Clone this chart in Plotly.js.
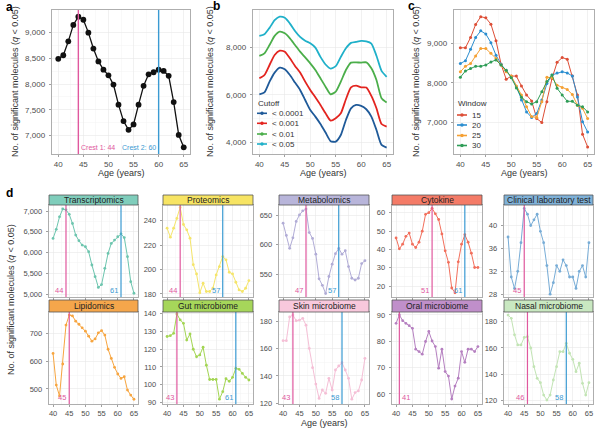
<!DOCTYPE html>
<html><head><meta charset="utf-8">
<script src="https://cdn.plot.ly/plotly-3.0.1.min.js"></script>
<style>html,body{margin:0;padding:0;background:#fff}#chart{width:600px;height:430px}</style>
</head><body><div id="chart"></div>
<script>
// ---------------- DATA ----------------
const ages = [40,41,42,43,44,45,46,47,48,49,50,51,52,53,54,55,56,57,58,59,60,61,62,63,64,65];
const xTicks = [40,45,50,55,60,65];

// panel a
const sigMolecules = [8490,8560,8830,9150,9310,9250,9000,8690,8440,8280,8170,7990,7600,7280,7110,7215,7600,7965,8190,8230,8280,8255,8160,7650,7010,6770];
const crestsA = [44, 60];
const crestLabelsA = ['Crest 1: 44', 'Crest 2: 60'];

// panel b
const cutoffLabels = ['< 0.0001', '< 0.001', '< 0.01', '< 0.05'];
const cutoff0001 = [6030,6110,6560,6940,7150,7080,6840,6520,6210,5790,5370,5090,4780,4420,4060,4040,4320,4950,5440,5580,5540,5400,5090,4530,3900,3790];
const cutoff001  = [6700,6840,7260,7680,7860,7820,7540,7220,6940,6560,6210,5900,5580,5230,4920,5020,5230,5820,6320,6390,6320,6310,5960,5440,4780,4670];
const cutoff01   = [7640,7750,8100,8480,8660,8590,8380,8100,7820,7580,7330,7050,6700,6350,6030,6140,6560,7050,7360,7370,7360,7370,7120,6630,5860,5680];
const cutoff05   = [8480,8550,8820,9140,9290,9240,9000,8690,8440,8280,8170,7990,7600,7280,7110,7210,7600,7960,8190,8230,8270,8250,8160,7650,7010,6760];

// panel c
const windowLabels = ['15', '20', '25', '30'];
const window15 = [8890,8890,9150,9480,9680,9650,9490,9070,8470,8090,8170,8170,7920,7690,7540,7090,6990,7520,8110,8520,8640,8600,8170,7690,6690,6370];
const window20 = [8490,8560,8850,9150,9320,9240,9020,8700,8470,8320,8150,7900,7560,7260,7120,7220,7560,7980,8200,8250,8280,8250,8170,7640,7010,6750];
const window25 = [8280,8420,8490,8680,8870,8870,8750,8620,8450,8280,8170,7920,7690,7390,7140,7120,7520,8140,8130,7940,7880,7830,7700,7430,7350,7090];
const window30 = [8140,8300,8360,8420,8420,8450,8530,8580,8450,8320,8130,7870,7630,7520,7460,7520,7770,8030,8200,7860,7690,7530,7530,7430,7390,7260];

// panel d
const omicsNames = ['Transcriptomics','Proteomics','Metabolomics','Cytokine','Clinical laboratory test',
                    'Lipidomics','Gut microbiome','Skin microbiome','Oral microbiome','Nasal microbiome'];
const transcriptomics = [6340,6560,6860,7050,7030,6920,6700,6420,6285,6180,6140,6020,5700,5420,5160,5230,5620,5980,6220,6300,6380,6450,6360,5900,5300,5020];
const proteomics      = [234,226.6,234,242,251,237,232.6,225.8,204,196.4,181,188.8,182,182,184.7,195.6,202.5,210.7,208,197.8,196.4,189.6,183.3,182,184.7,191];
const metabolomics    = [637,616,594,612,640,651,658,661,621,611,584,542,531,517,546,567,585,594,584,590,563,543,540,543,568,573];
const cytokine        = [46.2,40.3,42.8,47.1,48.9,42.8,41,43.9,49.9,59.1,60,62.4,59.4,56.3,48.4,39.2,32.9,18.9,16.3,33.2,42.8,48,43.9,37.9,30.1,30.1];
const clinicalLab     = [38,31,29,32,37,43,42,40,41,42,39,37,33,28,30,33,32,34,33,31,31,29,32,33,31,37];
const lipidomics      = [628,514,475,590,730,766,763,744,733,720,708,690,672,680,702,710,694,643,610,578,554,538,544,496,478,463];
const gutMicrobiome   = [127,127.5,128.8,139.6,136.3,134.4,125,128.4,119.9,115.7,116.7,121,111,103,103,103,92,96.2,103.4,102,104.2,109.2,108.7,106.4,104.2,102.7];
const skinMicrobiome  = [165.7,165.7,183,184.4,180.2,180.7,182,177,160,146,134,123.6,129.7,127.3,138.2,129.7,144.3,147.2,149.6,144.3,138.2,123,127.8,129,137,152.8];
const oralMicrobiome  = [86.8,90,87.8,86.8,85.9,84.9,77,76.1,75.1,79.9,83.7,80.1,78,69.8,77,68.5,66.8,58.1,63,66,76.1,72,77,77,76.1,78];
const nasalMicrobiome = [185,182.5,170,162.3,162.3,168,168.6,160,145.8,137,133.7,124.3,120.5,124.3,135.7,145.8,157.2,157.2,163.5,156,151.4,142,148.4,133.2,124.3,133.7];
const omicsCrest1 = [44,44,47,51,45,45,43,43,41,46];
const omicsCrest2 = [61,57,57,61,null,null,61,58,null,58];
const omicsYTicks = [[5000,5500,6000,6500,7000],[180,200,220,240],[550,600,650],[20,30,40,50,60],[28,32,36,40],
                     [500,600,700],[90,100,110,120,130,140],[120,140,160,180],[60,70,80,90],[120,140,160,180]];

// ---------------- STYLE / LAYOUT ----------------
const FONT = '"Liberation Sans", Arial, sans-serif';
const W = 600, H = 430;
const px = x => x / W, py = y => 1 - y / H;
const PINK = '#e0589e', BLUE = '#3a9ad2';
const TICKC = '#4d4d4d';

const cutoffColors = ['#1f5a99', '#e3241f', '#4bae4a', '#1fb0c9'];
const windowColors = ['#dd4e36', '#2b8ed0', '#f5a033', '#2f9d57'];
const omicsStrip = ['#7fcdbb','#f7e463','#b8b5da','#f47b67','#7fb1d8','#f5a64b','#a6d65a','#f8c8dc','#c08fca','#c9e8c1'];
const omicsLine  = ['#6cc5ae','#f5e56a','#b1acd6','#f26f5c','#77acd6','#f7a53f','#a3d553','#f5bfd6','#b57fc0','#c2e4b4'];
const omicsData  = [transcriptomics, proteomics, metabolomics, cytokine, clinicalLab,
                    lipidomics, gutMicrobiome, skinMicrobiome, oralMicrobiome, nasalMicrobiome];

// panel boxes [left, right, top, bottom] in px
const boxA = [52,190,10,154], boxB = [253,393,10,154], boxC = [454,594,10,154];
const colX = [[49,138],[163,253],[279,369],[392,482],[504,593]];
const rowY = [[205,297],[312,404]];
const stripH = [[195,205],[300,312]];
const omicsYRange = [[4930,7145],[177.5,253],[511,668],[14,64.2],[27.5,43.6],
                     [446,777],[89.3,140.7],[119.5,186.6],[56.2,91.1],[117.5,187.3]];

const layout = {
  width: W, height: H, margin: {l:0,r:0,t:0,b:0},
  paper_bgcolor: '#fff', plot_bgcolor: '#fff', showlegend: false,
  font: {family: FONT, size: 8, color: TICKC},
  shapes: [], annotations: []
};
const traces = [];

function mids(arr){ const m=[]; for(let i=0;i<arr.length-1;i++) m.push((arr[i]+arr[i+1])/2); return m; }

function addPanel(n, box, yRange, yTicks, showXLabels, tickSize){
  const xk = n===1 ? 'xaxis' : 'xaxis'+n, yk = n===1 ? 'yaxis' : 'yaxis'+n;
  const xid = n===1 ? 'x' : 'x'+n, yid = n===1 ? 'y' : 'y'+n;
  const common = {ticks:'outside', ticklen:2.5, tickwidth:0.7, tickcolor:'#777',
    showline:true, mirror:true, linecolor:'#9a9a9a', linewidth:0.8,
    showgrid:true, gridcolor:'#e8e8e8', gridwidth:0.6, zeroline:false, fixedrange:true,
    tickfont:{family:FONT, size:tickSize, color:TICKC}};
  layout[xk] = Object.assign({}, common, {domain:[px(box[0]),px(box[1])], range:[38.75,66.25],
    tickvals:xTicks, showticklabels:showXLabels, anchor:yid,
    minor:{tickvals:mids(xTicks), showgrid:true, gridcolor:'#f3f3f3', gridwidth:0.5, ticks:''}});
  layout[yk] = Object.assign({}, common, {domain:[py(box[3]),py(box[2])], range:yRange,
    tickvals:yTicks, tickformat:',', anchor:xid, ticklabelstandoff:2,
    minor:{tickvals:mids(yTicks), showgrid:true, gridcolor:'#f3f3f3', gridwidth:0.5, ticks:''}});
  return {xid, yid};
}
function vline(xid, yid, x, color, w){
  layout.shapes.push({type:'line', xref:xid, yref:yid+' domain', x0:x, x1:x, y0:0, y1:1,
    line:{color:color, width:w}, layer:'above'});
}
function txt(x, y, text, o){
  layout.annotations.push(Object.assign({xref:'paper', yref:'paper', x:px(x), y:py(y), text:text,
    showarrow:false, font:{family:FONT, size:8.5, color:'#333'}}, o||{}));
}
function crestLabel(xid, yid, x, color){
  const right = (x - 40) < 2;   // no room on the left of the line
  layout.annotations.push({xref:xid, yref:yid+' domain', x:x, y:0, xanchor: right ? 'left' : 'right', yanchor:'bottom',
    xshift: right ? 1 : -1, yshift:0, text:String(x), showarrow:false, font:{family:FONT,size:7.5,color:color}});
}

// ---- panel a
let ax = addPanel(1, boxA, [6640, 9440], [7000,7500,8000,8500,9000], true, 8);
traces.push({x:ages, y:sigMolecules, xaxis:ax.xid, yaxis:ax.yid, mode:'lines+markers',
  line:{color:'#111', width:1.3}, marker:{color:'#111', size:5.8}});
vline(ax.xid, ax.yid, crestsA[0], PINK, 1.4);
vline(ax.xid, ax.yid, crestsA[1], BLUE, 1.4);
layout.annotations.push({xref:ax.xid, yref:ax.yid+' domain', x:crestsA[0], y:0, xanchor:'left', yanchor:'bottom',
  xshift:1, yshift:1, text:crestLabelsA[0], showarrow:false, font:{family:FONT,size:7,color:PINK}});
layout.annotations.push({xref:ax.xid, yref:ax.yid+' domain', x:crestsA[1], y:0, xanchor:'right', yanchor:'bottom',
  xshift:-1, yshift:1, text:crestLabelsA[1], showarrow:false, font:{family:FONT,size:7,color:BLUE}});

// ---- panel b
ax = addPanel(2, boxB, [3520, 9570], [4000,6000,8000], true, 8);
[cutoff0001, cutoff001, cutoff01, cutoff05].forEach((s,i)=>{
  traces.push({x:ages, y:s, xaxis:ax.xid, yaxis:ax.yid, mode:'lines', line:{color:cutoffColors[i], width:1.8, shape:'spline', smoothing:0.6}});
});

// ---- panel c
ax = addPanel(3, boxC, [6190, 9850], [7000,8000,9000], true, 8);
[window15, window20, window25, window30].forEach((s,i)=>{
  traces.push({x:ages, y:s, xaxis:ax.xid, yaxis:ax.yid, mode:'lines+markers', line:{color:windowColors[i], width:1}, marker:{color:windowColors[i], size:3}});
});

// legends (b, c)
function manualLegend(x0, yTitle, title, ys, labels, colors){
  txt(x0, yTitle, title, {xanchor:'left', yanchor:'middle', font:{family:FONT,size:8,color:'#333'}});
  labels.forEach((lab,i)=>{
    const y = ys[i];
    layout.shapes.push({type:'line', xref:'paper', yref:'paper', x0:px(x0+1), x1:px(x0+11), y0:py(y), y1:py(y), line:{color:colors[i], width:1.6}});
    layout.shapes.push({type:'circle', xref:'paper', yref:'paper', x0:px(x0+4.3), x1:px(x0+7.7), y0:py(y+1.7), y1:py(y-1.7), fillcolor:colors[i], line:{width:0}});
    txt(x0+14, y, lab, {xanchor:'left', yanchor:'middle', font:{family:FONT,size:8,color:'#333'}});
  });
}
manualLegend(256, 103, 'Cutoff', [113.3,123.3,134,144], cutoffLabels, cutoffColors);
manualLegend(456, 104, 'Window', [115,125,135.5,145.5], windowLabels, windowColors);

// ---- panel d
omicsNames.forEach((name,i)=>{
  const r = Math.floor(i/5), c = i%5;
  const box = [colX[c][0], colX[c][1], rowY[r][0], rowY[r][1]];
  const a = addPanel(4+i, box, omicsYRange[i], omicsYTicks[i], r===1, 7.5);
  traces.push({x:ages, y:omicsData[i], xaxis:a.xid, yaxis:a.yid, mode:'lines+markers',
    line:{color:omicsLine[i], width:1}, marker:{color:omicsLine[i], size:2.8}});
  vline(a.xid, a.yid, omicsCrest1[i], PINK, 1.2);
  crestLabel(a.xid, a.yid, omicsCrest1[i], PINK);
  if (omicsCrest2[i] !== null){
    vline(a.xid, a.yid, omicsCrest2[i], BLUE, 1.2);
    crestLabel(a.xid, a.yid, omicsCrest2[i], BLUE);
  }
  // strip
  layout.shapes.push({type:'rect', xref:'paper', yref:'paper', x0:px(colX[c][0]), x1:px(colX[c][1]),
    y0:py(stripH[r][1]), y1:py(stripH[r][0]), fillcolor:omicsStrip[i], line:{color:'#555', width:0.8}});
  txt((colX[c][0]+colX[c][1])/2, (stripH[r][0]+stripH[r][1])/2, name,
    {xanchor:'center', yanchor:'middle', font:{family:FONT,size:8.5,color:'#222'}});
});

// ---- titles & panel letters
const yTitle = 'No. of significant molecules (<i>q</i> < 0.05)';
const tFont = {family:FONT, size:9, color:'#333'};
txt(15, 82, yTitle, {textangle:-90, xanchor:'center', yanchor:'middle', font:tFont});
txt(210, 82, yTitle, {textangle:-90, xanchor:'center', yanchor:'middle', font:tFont});
txt(416, 82, yTitle, {textangle:-90, xanchor:'center', yanchor:'middle', font:tFont});
txt(11, 300, yTitle, {textangle:-90, xanchor:'center', yanchor:'middle', font:tFont});
txt(121, 173, 'Age (years)', {xanchor:'center', yanchor:'middle', font:tFont});
txt(323, 173, 'Age (years)', {xanchor:'center', yanchor:'middle', font:tFont});
txt(524, 173, 'Age (years)', {xanchor:'center', yanchor:'middle', font:tFont});
txt(324, 423, 'Age (years)', {xanchor:'center', yanchor:'middle', font:tFont});
const bold = {family:FONT, size:12, color:'#000'};
txt(9, 7, '<b>a</b>', {xanchor:'center', yanchor:'middle', font:bold});
txt(216, 6, '<b>b</b>', {xanchor:'center', yanchor:'middle', font:bold});
txt(411, 6, '<b>c</b>', {xanchor:'center', yanchor:'middle', font:bold});
txt(9, 193, '<b>d</b>', {xanchor:'center', yanchor:'middle', font:bold});

Plotly.newPlot('chart', traces, layout, {staticPlot:true, displayModeBar:false});
</script></body></html>
